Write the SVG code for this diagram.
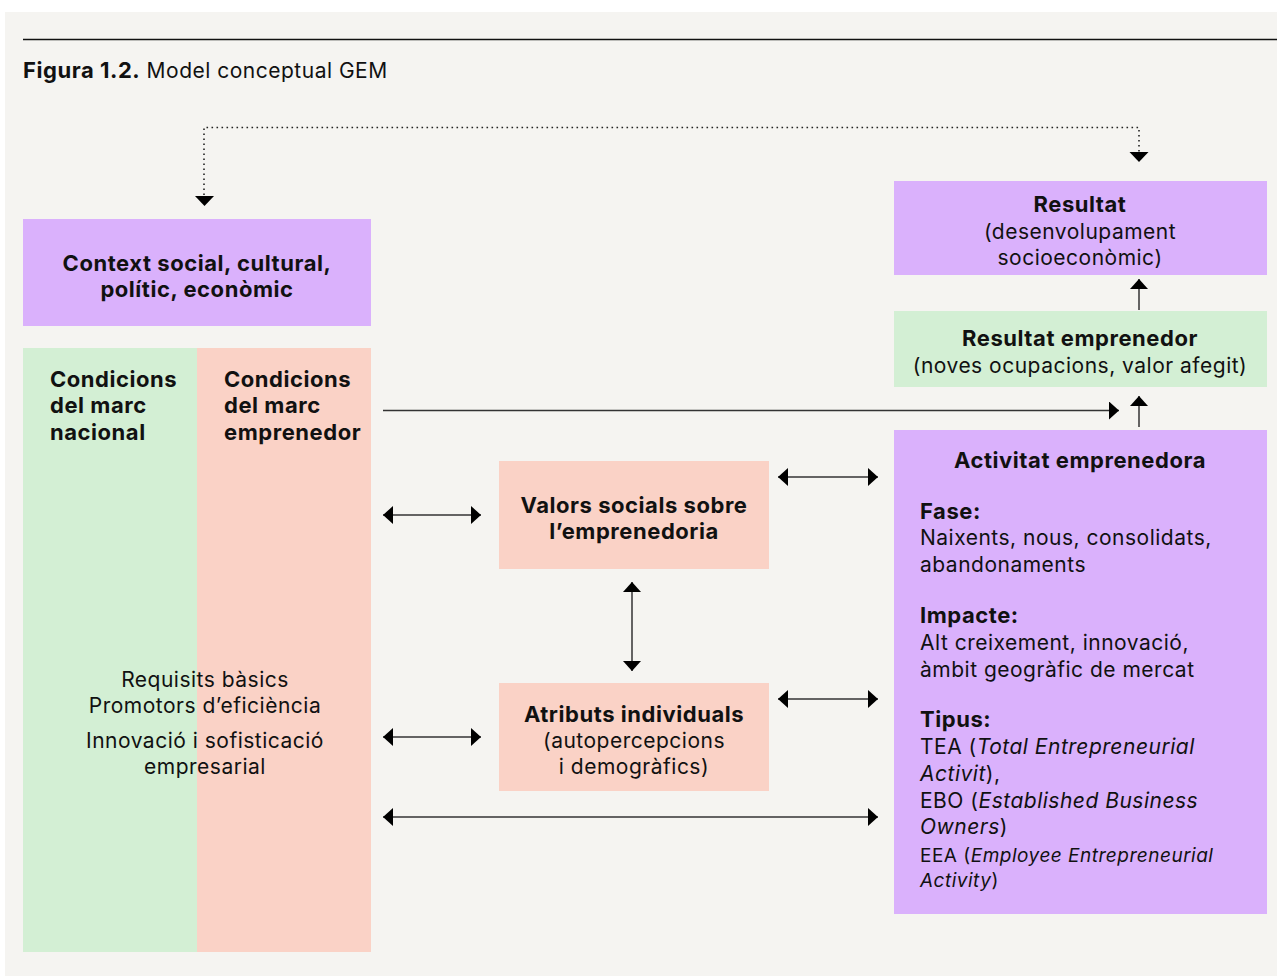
<svg xmlns="http://www.w3.org/2000/svg" width="1277" height="976" viewBox="0 0 1277 976">
<defs>
<style>
text{font-family:Inter,"Noto Sans","Liberation Sans",sans-serif;font-size:21px;letter-spacing:0.5px;fill:#111}
.b{font-weight:700;font-size:22px;letter-spacing:0.55px}
.c{text-anchor:middle}
.i{font-style:italic}
.sm{font-size:19px;letter-spacing:0.5px}
.ln{stroke:#333;stroke-width:1.5;fill:none}
.dot{stroke:#222;stroke-width:1.6;fill:none;stroke-dasharray:1.6 3.4}
.pur{fill:#dab1fc}
.grn{fill:#d3efd4}
.sal{fill:#fad2c6}
</style>
<marker id="ah" viewBox="0 0 10 18" refX="10" refY="9" markerWidth="10" markerHeight="18" markerUnits="userSpaceOnUse" orient="auto-start-reverse">
<path d="M0,0 L10,9 L0,18 Z" fill="#000"/>
</marker>
</defs>
<rect x="0" y="0" width="1277" height="976" fill="#fff"/>
<rect x="5" y="12" width="1272" height="964" fill="#f5f4f1"/>
<line x1="23" y1="39.5" x2="1277" y2="39.5" stroke="#111" stroke-width="1.3"/>
<text x="23" y="78"><tspan class="b">Figura 1.2.</tspan> Model conceptual GEM</text>

<g id="context">
<rect class="pur" x="23" y="219" width="348" height="107"/>
<text class="b c" x="197" y="271">Context social, cultural,</text>
<text class="b c" x="197" y="297">polític, econòmic</text>
</g>

<g id="condicions">
<rect class="grn" x="23" y="348" width="174" height="604"/>
<rect class="sal" x="197" y="348" width="174" height="604"/>
<text class="b" x="50" y="387">Condicions</text>
<text class="b" x="50" y="413">del marc</text>
<text class="b" x="50" y="440">nacional</text>
<text class="b" x="224" y="387">Condicions</text>
<text class="b" x="224" y="413">del marc</text>
<text class="b" x="224" y="440">emprenedor</text>
<text class="c" x="205" y="687">Requisits bàsics</text>
<text class="c" x="205" y="713">Promotors d’eficiència</text>
<text class="c" x="205" y="748">Innovació i sofisticació</text>
<text class="c" x="205" y="774">empresarial</text>
</g>

<g id="valors">
<rect class="sal" x="499" y="461" width="270" height="108"/>
<text class="b c" x="634" y="513">Valors socials sobre</text>
<text class="b c" x="634" y="539">l’emprenedoria</text>
</g>

<g id="atributs">
<rect class="sal" x="499" y="683" width="270" height="108"/>
<text class="b c" x="634" y="722">Atributs individuals</text>
<text class="c" x="634" y="748">(autopercepcions</text>
<text class="c" x="634" y="774">i demogràfics)</text>
</g>

<g id="resultat">
<rect class="pur" x="894" y="181" width="373" height="94"/>
<text class="b c" x="1080" y="212">Resultat</text>
<text class="c" x="1080" y="239">(desenvolupament</text>
<text class="c" x="1080" y="265">socioeconòmic)</text>
</g>

<g id="resultat-emprenedor">
<rect class="grn" x="894" y="311" width="373" height="76"/>
<text class="b c" x="1080" y="346">Resultat emprenedor</text>
<text class="c" x="1080" y="373">(noves ocupacions, valor afegit)</text>
</g>

<g id="activitat">
<rect class="pur" x="894" y="430" width="373" height="484"/>
<text class="b c" x="1080" y="468">Activitat emprenedora</text>
<text class="b" x="920" y="519">Fase:</text>
<text x="920" y="545">Naixents, nous, consolidats,</text>
<text x="920" y="572">abandonaments</text>
<text class="b" x="920" y="623">Impacte:</text>
<text x="920" y="650">Alt creixement, innovació,</text>
<text x="920" y="677">àmbit geogràfic de mercat</text>
<text class="b" x="920" y="727">Tipus:</text>
<text x="920" y="754">TEA (<tspan class="i">Total Entrepreneurial</tspan></text>
<text x="920" y="781"><tspan class="i">Activit</tspan>),</text>
<text x="920" y="808">EBO (<tspan class="i">Established Business</tspan></text>
<text x="920" y="834"><tspan class="i">Owners</tspan>)</text>
<text class="sm" x="920" y="862">EEA (<tspan class="i">Employee Entrepreneurial</tspan></text>
<text class="sm" x="920" y="887"><tspan class="i">Activity</tspan>)</text>
</g>

<g id="connectors">
<polyline class="dot" points="204,195 204,127.5 1139,127.5 1139,152"/>
<path d="M195,196 L214,196 L204.5,206 Z" fill="#000"/>
<path d="M1129.5,152 L1148.5,152 L1139,162 Z" fill="#000"/>
<line class="ln" x1="1139" y1="310" x2="1139" y2="279" marker-end="url(#ah)"/>
<line class="ln" x1="1139" y1="427" x2="1139" y2="396" marker-end="url(#ah)"/>
<line class="ln" x1="383" y1="410.5" x2="1119" y2="410.5" marker-end="url(#ah)"/>
<line class="ln" x1="383" y1="515" x2="481" y2="515" marker-start="url(#ah)" marker-end="url(#ah)"/>
<line class="ln" x1="383" y1="737" x2="481" y2="737" marker-start="url(#ah)" marker-end="url(#ah)"/>
<line class="ln" x1="383" y1="817" x2="878" y2="817" marker-start="url(#ah)" marker-end="url(#ah)"/>
<line class="ln" x1="778" y1="477" x2="878" y2="477" marker-start="url(#ah)" marker-end="url(#ah)"/>
<line class="ln" x1="778" y1="699" x2="878" y2="699" marker-start="url(#ah)" marker-end="url(#ah)"/>
<line class="ln" x1="632" y1="582" x2="632" y2="671" marker-start="url(#ah)" marker-end="url(#ah)"/>
</g>
</svg>
